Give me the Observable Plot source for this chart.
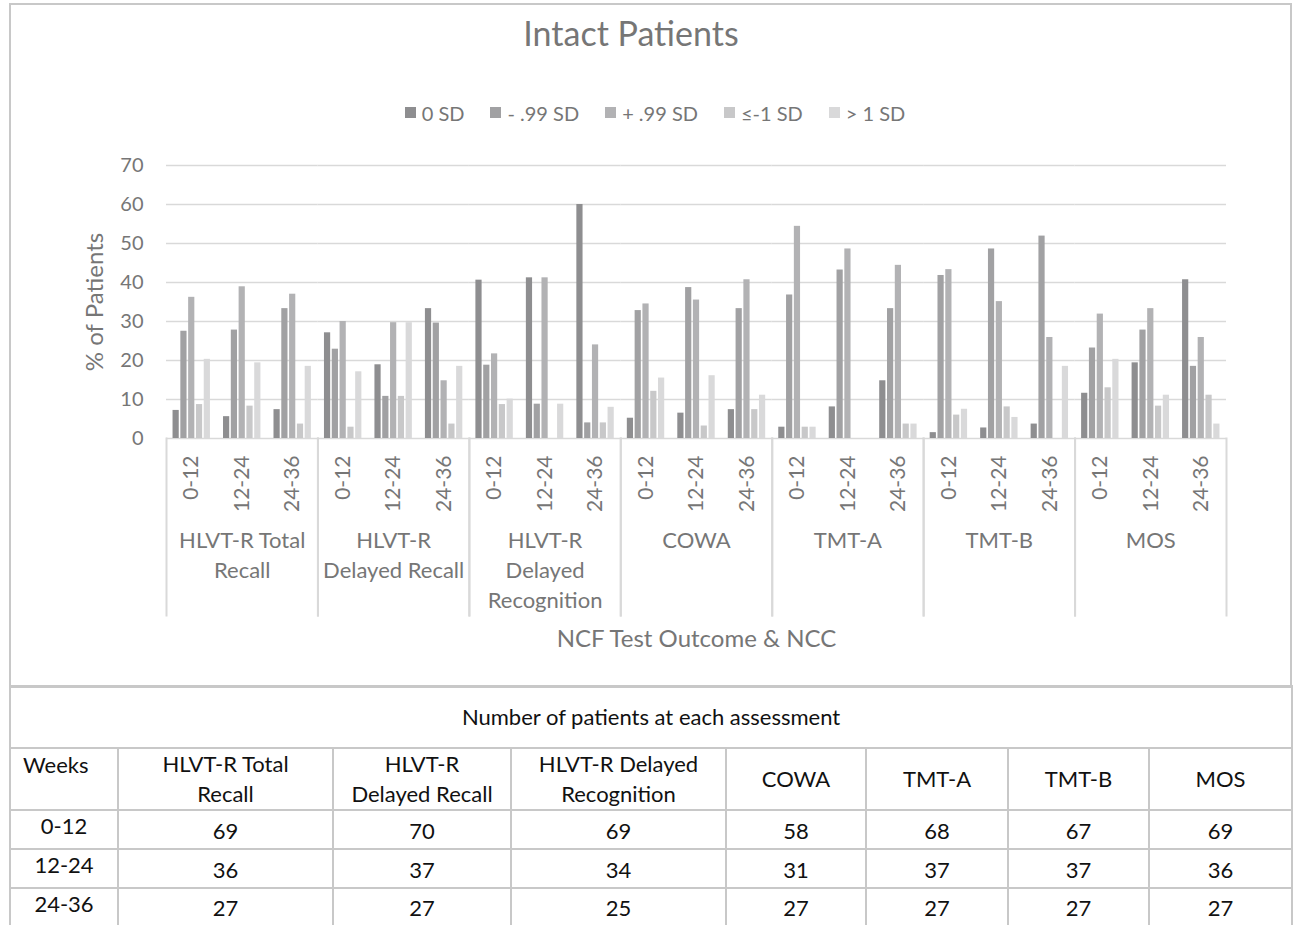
<!DOCTYPE html>
<html><head><meta charset="utf-8">
<script src="https://cdn.jsdelivr.net/npm/d3@7"></script>
<script src="https://cdn.jsdelivr.net/npm/@observablehq/plot@0.6"></script>
<style>
body{margin:0;width:1296px;height:925px;position:relative;background:#fff;font-family:Lato,"Open Sans",sans-serif;overflow:hidden}
#box{position:absolute;left:9px;top:3px;width:1279px;height:681px;border:2px solid #c8c8c8}
#title{position:absolute;left:331px;width:600px;top:13px;text-align:center;font-size:34px;color:#767676;line-height:40px}
#legend{position:absolute;left:0;width:1310px;top:96px}
.lg-swatches{justify-content:center}
.lg-swatch{margin-right:26px !important}
.lg-swatch:last-child{margin-right:0 !important}
.lg-swatch > svg{margin-right:6px !important}
#chart{position:absolute;left:0;top:140px}
#tbl{position:absolute;left:9px;top:685px;border-collapse:collapse;table-layout:fixed;width:1282px;font-size:22px;color:#111}
#tbl td{border:2px solid #c8c8c8;text-align:center;padding:0;line-height:30px;overflow:visible;white-space:nowrap}
</style>
</head><body>
<div id="box"></div>
<div id="title">Intact Patients</div>
<div id="legend"></div>
<div id="chart"></div>
<table id="tbl"></table>
<script>
const groups = ["HLVT-R Total Recall","HLVT-R Delayed Recall","HLVT-R Delayed Recognition","COWA","TMT-A","TMT-B","MOS"];
const groupLabels = ["HLVT-R Total\nRecall","HLVT-R\nDelayed Recall","HLVT-R\nDelayed\nRecognition","COWA","TMT-A","TMT-B","MOS"];
const periods = ["0-12","12-24","24-36"];
const series = ["0 SD","- .99 SD","+ .99 SD","≤-1 SD","> 1 SD"];
const colors = ["#8e8e90","#a1a1a3","#b2b2b4","#c8c8c9","#d9d9da"];
// values per series, ordered group by group, period by period
const sd0      = [7.2,5.6,7.4, 27.1,18.9,33.3, 40.6,41.2,60.0, 5.2,6.5,7.4, 2.9,8.1,14.8, 1.5,2.7,3.7, 11.6,19.4,40.7];
const sdMinus  = [27.5,27.8,33.3, 22.9,10.8,29.6, 18.8,8.8,4.0, 32.8,38.7,33.3, 36.8,43.2,33.3, 41.8,48.6,51.9, 23.2,27.8,18.5];
const sdPlus   = [36.2,38.9,37.0, 30.0,29.7,14.8, 21.7,41.2,24.0, 34.5,35.5,40.7, 54.4,48.6,44.4, 43.3,35.1,25.9, 31.9,33.3,25.9];
const sdLow    = [8.7,8.3,3.7, 2.9,10.8,3.7, 8.7,0,4.0, 12.1,3.2,7.4, 2.9,0,3.7, 6.0,8.1,0, 13.0,8.3,11.1];
const sdHigh   = [20.3,19.4,18.5, 17.1,29.7,18.5, 10.1,8.8,8.0, 15.5,16.1,11.1, 2.9,0,3.7, 7.5,5.4,18.5, 20.3,11.1,3.7];
const yTicks = [0,10,20,30,40,50,60,70];
// table
const tableTitle = "Number of patients at each assessment";
const tableHeaders = ["HLVT-R Total\nRecall","HLVT-R\nDelayed Recall","HLVT-R Delayed\nRecognition","COWA","TMT-A","TMT-B","MOS"];
const n0_12  = [69,70,69,58,68,67,69];
const n12_24 = [36,37,34,31,37,37,36];
const n24_36 = [27,27,25,27,27,27,27];

const seriesValues = [sd0, sdMinus, sdPlus, sdLow, sdHigh];
const data = [];
series.forEach((s, si) => {
  groups.forEach((g, gi) => {
    periods.forEach((p, pi) => {
      data.push({series: s, group: g, period: p, value: seriesValues[si][gi * 3 + pi]});
    });
  });
});

const W = 1296, ML = 166, MR = 70;
const bandW = (W - ML - MR) / groups.length / periods.length;
const pitch = 7.8, barW = 6.2;
const bars = series.map((s, i) => {
  const c = bandW / 2 + (i - 2) * pitch;
  return Plot.barY(data.filter(d => d.series === s), {
    fx: "group", x: "period", y: "value", fill: "series",
    insetLeft: c - barW / 2, insetRight: bandW - c - barW / 2
  });
});
const gridColor = "#d9d9d9";
const font = "Lato, 'Open Sans', sans-serif";
const chart = Plot.plot({
  width: W, height: 520,
  marginLeft: ML, marginRight: MR, marginTop: 25, marginBottom: 222,
  style: {fontFamily: font, fontSize: "20px", color: "#767676", background: "transparent"},
  fx: {domain: groups, padding: 0, round: false, label: null},
  x: {domain: periods, padding: 0, round: false, label: null},
  y: {domain: [0, 70], label: null},
  color: {domain: series, range: colors},
  marks: [
    Plot.gridY(yTicks, {stroke: gridColor, strokeOpacity: 1, strokeWidth: 1.6}),
    Plot.axisY(yTicks, {tickSize: 0, tickPadding: 23, fontSize: 20, label: null}),
    Plot.axisY([], {label: "% of Patients", labelAnchor: "center", labelArrow: "none", labelOffset: 81, fontSize: 24}),
    Plot.axisX({tickRotate: -90, tickSize: 0, tickPadding: 17, fontSize: 21, label: null}),
    Plot.axisFx({anchor: "bottom", tickSize: 0, tickFormat: () => "", label: "NCF Test Outcome & NCC", labelAnchor: "center", labelArrow: "none", labelOffset: 208, fontSize: 24}),
    Plot.frame({anchor: "left", stroke: gridColor, strokeWidth: 2, insetTop: 273, insetBottom: -177}),
    Plot.frame({anchor: "right", stroke: gridColor, strokeWidth: 2, insetTop: 273, insetBottom: -177}),
    Plot.text(groups, {fx: d => d, text: (d, i) => groupLabels[i], frameAnchor: "bottom", lineAnchor: "top", lineHeight: 1.36, dy: 88, fontSize: 22}),
    ...bars
  ]
});
document.getElementById("chart").appendChild(chart);

const legend = Plot.legend({
  color: {type: "ordinal", domain: series, range: colors},
  swatchSize: 11, className: "lg",
  style: {fontFamily: font, fontSize: "20px", color: "#767676"}
});
document.getElementById("legend").appendChild(legend);

// table
const tbl = document.getElementById("tbl");
const esc = s => s.replace(/\n/g, "<br>");
const colW = [108, 215, 178, 215, 140, 142, 141, 143];
let html = `<colgroup>${colW.map(w => `<col style="width:${w}px">`).join("")}</colgroup>`;
html += `<tr style="height:62px"><td colspan="8">${tableTitle}</td></tr>`;
html += `<tr style="height:60px"><td style="text-align:left;vertical-align:top;padding-left:12px;padding-top:1px">Weeks</td>` +
  tableHeaders.map(h => `<td>${esc(h)}</td>`).join("") + `</tr>`;
[[periods[0], n0_12], [periods[1], n12_24], [periods[2], n24_36]].forEach(([p, arr], ri) => {
  html += `<tr style="height:${ri === 2 ? 38 : 39}px"><td style="vertical-align:top">${p}</td>` + arr.map(v => `<td style="padding-top:2px">${v}</td>`).join("") + `</tr>`;
});
tbl.innerHTML = html;
</script>
</body></html>
